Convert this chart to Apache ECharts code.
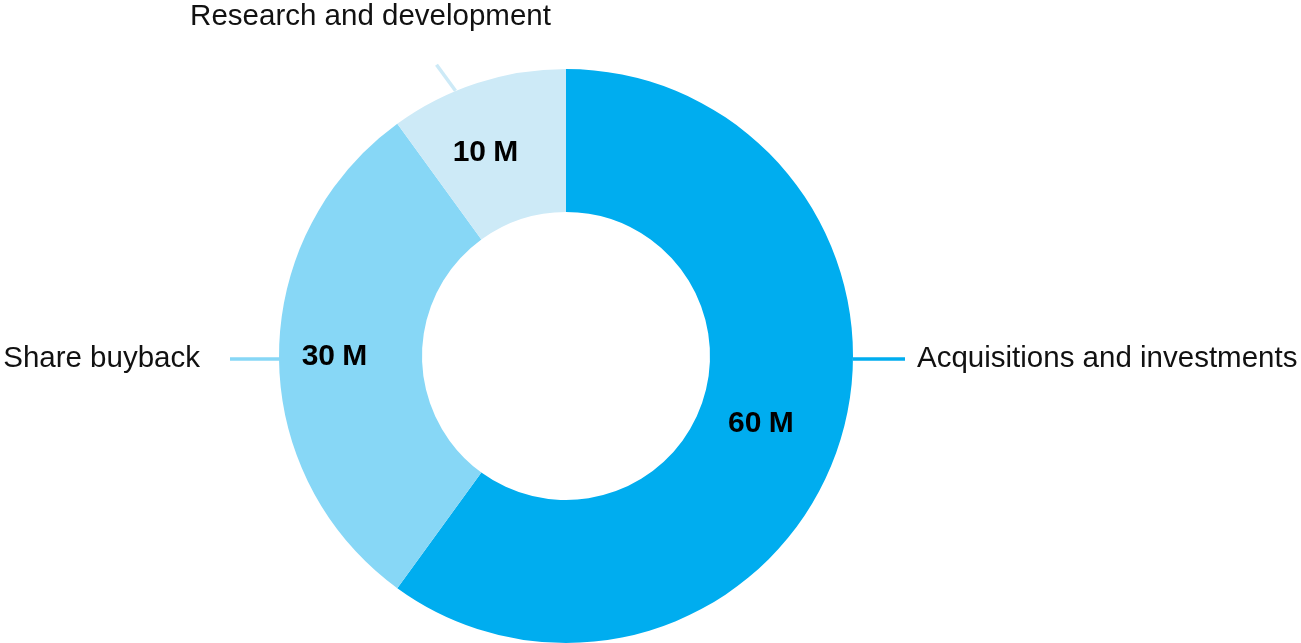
<!DOCTYPE html>
<html>
<head>
<meta charset="utf-8">
<title>Use of funds</title>
<script src="https://cdn.jsdelivr.net/npm/echarts@6/dist/echarts.min.js"></script>
<style>
  html, body { margin: 0; padding: 0; background: #ffffff; }
  #chart { width: 1301px; height: 643px; }
</style>
</head>
<body>
<div id="chart"></div>
<script>
// Allocation categories and amounts (millions)
const categories = ['Acquisitions and investments', 'Share buyback', 'Research and development'];
const amounts = [60, 30, 10];
const valueNumbers = ['60', '30', '10'];
const valueUnit = 'M';
const colors = ['#00adef', '#87d7f6', '#cdeaf7'];

// Ring geometry
const CX = 566, CY = 356, R_IN = 144, R_OUT = 287;

const data = categories.map((name, i) => ({
  name: name,
  value: amounts[i],
  itemStyle: { color: colors[i] },
  labelLine: { lineStyle: { color: colors[i], width: 3.5 } }
}));

// Outer name labels: horizontal leaders on the left/right, short tick at the top
function placeNameLabel(p) {
  const i = p.dataIndex;
  if (i === 0) {
    const x0 = CX + R_OUT, y0 = CY + 3;
    return {
      x: x0 + 64, y: y0, align: 'left', verticalAlign: 'middle',
      labelLinePoints: [[x0, y0], [x0 + 52, y0], [x0 + 52, y0]]
    };
  }
  if (i === 1) {
    const x0 = CX - R_OUT, y0 = CY + 3;
    return {
      x: x0 - 79, y: y0, align: 'right', verticalAlign: 'middle',
      labelLinePoints: [[x0, y0], [x0 - 49, y0], [x0 - 49, y0]]
    };
  }
  const ux = -0.385, uy = -0.924;
  const sx = CX + ux * R_OUT, sy = CY + uy * R_OUT;
  const ex = sx - 19, ey = sy - 26;
  return {
    x: ex - 66, y: ey - 48, align: 'center', verticalAlign: 'middle',
    labelLinePoints: [[sx, sy], [ex, ey], [ex, ey]]
  };
}

const valueStyle = {
  n: { fontFamily: 'Liberation Sans, Arial, sans-serif', fontWeight: 'bold', fontSize: 30, color: '#000000' },
  u: { fontFamily: 'Liberation Sans, Arial, sans-serif', fontWeight: 'bold', fontSize: 30, color: '#000000', padding: [0, 0, 0, 4] }
};
const valueOffsets = [[-13, 0], [-13, 1], [-13, 5]];

const chart = echarts.init(document.getElementById('chart'), null, { renderer: 'canvas' });
chart.setOption({
  animation: false,
  backgroundColor: '#ffffff',
  series: [
    {
      type: 'pie',
      center: [CX, CY],
      radius: [R_IN, R_OUT],
      startAngle: 90,
      clockwise: true,
      avoidLabelOverlap: false,
      silent: true,
      data: data,
      label: {
        show: true,
        position: 'outside',
        formatter: '{b}',
        fontFamily: 'Liberation Sans, Arial, sans-serif',
        fontSize: 29.5,
        color: '#111111'
      },
      labelLine: { show: true, length: 20, length2: 30, smooth: false },
      labelLayout: placeNameLabel
    },
    {
      // Value labels inside each segment
      type: 'pie',
      center: [CX, CY],
      radius: [R_IN, R_OUT],
      startAngle: 90,
      clockwise: true,
      silent: true,
      data: categories.map((name, i) => ({
        name: name,
        value: amounts[i],
        itemStyle: { color: 'rgba(0,0,0,0)' },
        label: { offset: valueOffsets[i] }
      })),
      label: {
        show: true,
        position: 'inside',
        formatter: p => '{n|' + valueNumbers[p.dataIndex] + '} {u|' + valueUnit + '}',
        rich: valueStyle
      },
      labelLine: { show: false }
    }
  ]
});
</script>
</body>
</html>
